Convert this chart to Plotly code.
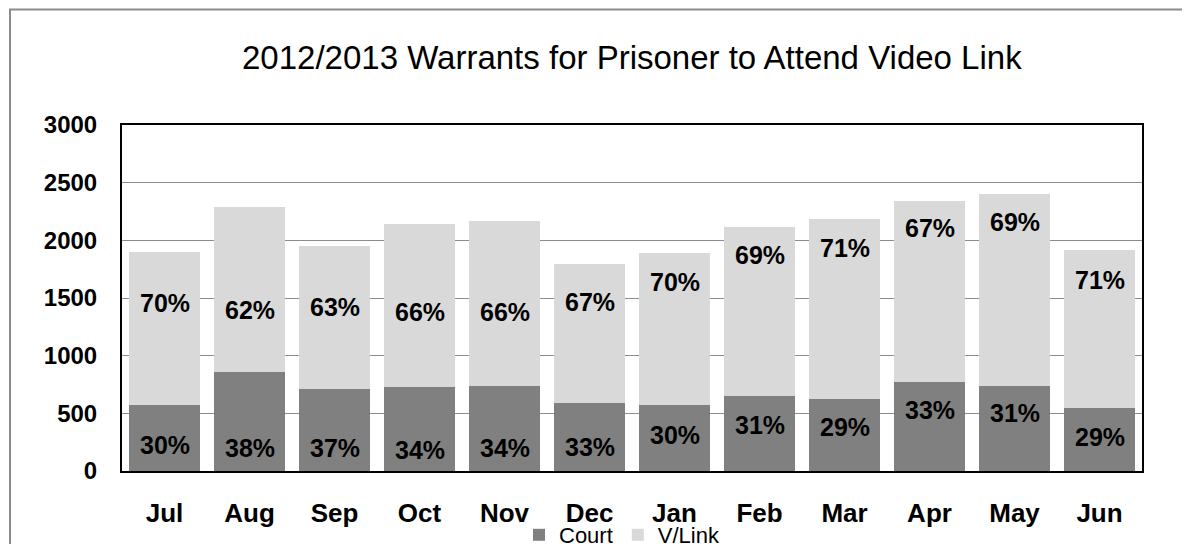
import plotly.graph_objects as go

months = ["Jul", "Aug", "Sep", "Oct", "Nov", "Dec", "Jan", "Feb", "Mar", "Apr", "May", "Jun"]
court = [572, 861, 714, 725, 740, 592, 572, 650, 627, 769, 740, 549]
vlink = [1330, 1431, 1237, 1415, 1431, 1203, 1321, 1466, 1558, 1572, 1665, 1368]

# label placement (data units) as hand-placed in the original
court_label_y = [225, 200, 200, 182, 200, 208, 312, 399, 382, 529, 503, 295]
vlink_label_y = [1457, 1396, 1422, 1379, 1379, 1466, 1639, 1873, 1934, 2108, 2160, 1657]

FONT = "Liberation Sans, Arial, sans-serif"

fig = go.Figure()
fig.add_trace(go.Bar(x=months, y=court, name="Court", marker=dict(color="#808080", line=dict(width=0))))
fig.add_trace(go.Bar(x=months, y=vlink, name="V/Link", marker=dict(color="#d9d9d9", line=dict(width=0))))

annotations = []
for i, m in enumerate(months):
    total = court[i] + vlink[i]
    cp = round(court[i] / total * 100)
    vp = round(vlink[i] / total * 100)
    annotations.append(dict(x=m, y=court_label_y[i], xref="x", yref="y", text=f"{cp}%",
                            showarrow=False, font=dict(family=FONT, size=25, color="black", weight="bold"),
                            xanchor="center", yanchor="middle"))
    annotations.append(dict(x=m, y=vlink_label_y[i], xref="x", yref="y", text=f"{vp}%",
                            showarrow=False, font=dict(family=FONT, size=25, color="black", weight="bold"),
                            xanchor="center", yanchor="middle"))

annotations.append(dict(text="2012/2013 Warrants for Prisoner to Attend Video Link",
                        xref="paper", yref="paper", x=(632 - 122) / 1020, y=(471 - 58) / 346,
                        xanchor="center", yanchor="middle", showarrow=False,
                        font=dict(family=FONT, size=33, color="black")))

# page body has an 8px offset; margins compensate so the plot area sits at x 122-1142, y 125-471
fig.update_layout(
    barmode="stack",
    bargap=0.165,
    width=1190, height=544,
    margin=dict(l=114, r=56, t=117, b=81, autoexpand=False),
    paper_bgcolor="white", plot_bgcolor="white",
    showlegend=True,
    legend=dict(orientation="h", x=(622 - 122) / 1020, xanchor="center",
                y=(471 - 535) / 346, yanchor="middle",
                font=dict(family=FONT, size=22, color="black"),
                itemwidth=30, bgcolor="rgba(0,0,0,0)", traceorder="normal"),
    annotations=annotations,
    shapes=[dict(type="rect", xref="paper", yref="paper",
                 x0=(10 - 122) / 1020, x1=(1220 - 122) / 1020,
                 y0=(471 - 600) / 346, y1=(471 - 9.5) / 346,
                 line=dict(color="#8c8c8c", width=2), layer="above")],
)

fig.update_yaxes(range=[0, 3000], dtick=500, tickformat="d",
                 showgrid=True, gridcolor="#8c8c8c", gridwidth=1,
                 showline=True, linecolor="black", linewidth=2, mirror=True,
                 ticks="", ticklabelstandoff=18,
                 tickfont=dict(family=FONT, size=24, color="black", weight="bold"),
                 zeroline=False)
fig.update_xaxes(showline=True, linecolor="black", linewidth=2, mirror=True,
                 ticks="", ticklabelstandoff=18,
                 tickfont=dict(family=FONT, size=26, color="black", weight="bold"))

fig.write_html("out.html")
